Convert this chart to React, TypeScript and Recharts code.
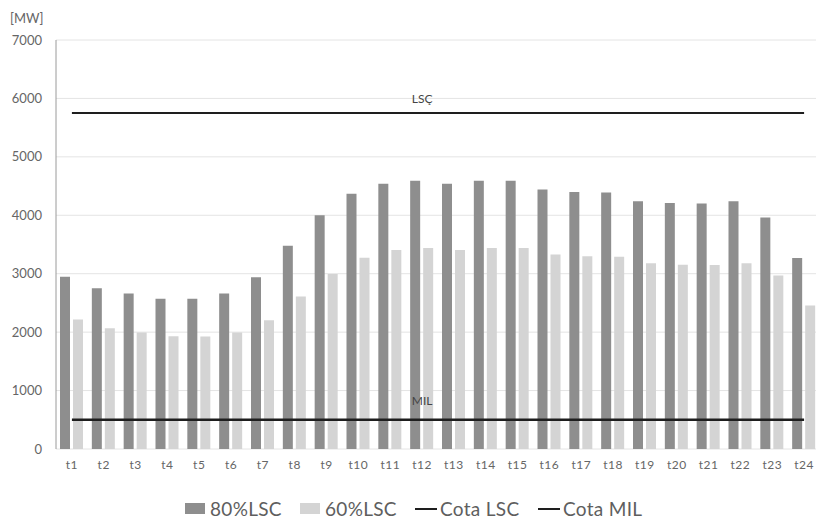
import React from 'react';
import {
  Bar,
  CartesianGrid,
  ComposedChart,
  LabelList,
  Legend,
  Line,
  XAxis,
  YAxis,
} from 'recharts';

const HOURS = [
  't1', 't2', 't3', 't4', 't5', 't6', 't7', 't8', 't9', 't10', 't11', 't12',
  't13', 't14', 't15', 't16', 't17', 't18', 't19', 't20', 't21', 't22', 't23', 't24',
];

const LOAD_80 = [
  2950, 2750, 2660, 2570, 2570, 2660, 2940, 3480, 4000, 4370, 4540, 4590,
  4540, 4590, 4590, 4440, 4400, 4390, 4240, 4210, 4200, 4240, 3960, 3270,
];

const LOAD_60 = [
  2215, 2065, 1995, 1930, 1925, 1995, 2205, 2610, 2995, 3275, 3405, 3440,
  3405, 3440, 3440, 3330, 3300, 3290, 3180, 3155, 3150, 3180, 2970, 2455,
];

const COTA_LSC = 5750;
const COTA_MIL = 500;

const Y_TICKS = [0, 1000, 2000, 3000, 4000, 5000, 6000, 7000];

// line tags only shown once, over t12
const LSC_TAG = HOURS.map((h) => (h === 't12' ? 'LSÇ' : undefined));
const MIL_TAG = HOURS.map((h) => (h === 't12' ? 'MIL' : undefined));

const FONT = 'Lato, "Open Sans", sans-serif';
const DARK = '#8e8e8e';
const LIGHT = '#d4d4d4';
const LINE = '#1e1e1e';

const data = HOURS.map((name, i) => ({
  name,
  p80: LOAD_80[i],
  p60: LOAD_60[i],
  lsc: COTA_LSC,
  mil: COTA_MIL,
  lscTag: LSC_TAG[i],
  milTag: MIL_TAG[i],
}));

const LegendContent = () => {
  const item: React.CSSProperties = { display: 'flex', alignItems: 'center' };
  const text: React.CSSProperties = {
    color: '#5e5e5e',
    fontSize: 19,
    fontFamily: FONT,
    letterSpacing: 0.3,
  };
  return (
    <div style={{ position: 'relative', height: 28 }}>
      <div style={{ ...item, position: 'absolute', left: 177 }}>
        <span style={{ width: 20, height: 11, background: DARK, marginRight: 5 }} />
        <span style={text}>80%LSC</span>
      </div>
      <div style={{ ...item, position: 'absolute', left: 292 }}>
        <span style={{ width: 20, height: 11, background: LIGHT, marginRight: 5 }} />
        <span style={text}>60%LSC</span>
      </div>
      <div style={{ ...item, position: 'absolute', left: 407 }}>
        <span style={{ width: 22, height: 2, background: LINE, marginRight: 3 }} />
        <span style={text}>Cota LSC</span>
      </div>
      <div style={{ ...item, position: 'absolute', left: 530 }}>
        <span style={{ width: 22, height: 2, background: LINE, marginRight: 3 }} />
        <span style={text}>Cota MIL</span>
      </div>
    </div>
  );
};

export default function App() {
  return (
    <div style={{ position: 'fixed', left: 8, top: 8, width: 808, height: 519, overflow: 'hidden', background: '#fff' }}>
      <style>{'html, body { overflow: hidden; }'}</style>
      <div
        style={{
          position: 'absolute',
          left: 2,
          top: 2,
          fontFamily: FONT,
          fontSize: 13,
          color: '#666',
        }}
      >
        [MW]
      </div>
      <ComposedChart
        width={816}
        height={519}
        data={data}
        margin={{ top: 32, right: 4, left: 0, bottom: 20 }}
        barCategoryGap={4}
        barGap={3}
      >
        <CartesianGrid vertical={false} stroke="#e4e4e4" />
        <XAxis
          dataKey="name"
          height={30}
          axisLine={false}
          tickLine={false}
          tickSize={0}
          tickMargin={11}
          tick={{ fill: '#666', fontSize: 12, fontFamily: FONT, letterSpacing: 0.5 }}
          interval={0}
        />
        <YAxis
          width={48}
          domain={[0, 7000]}
          ticks={Y_TICKS}
          axisLine={{ stroke: '#9a9a9a' }}
          tickLine={false}
          tickSize={0}
          tickMargin={14}
          tick={{ fill: '#666', fontSize: 13, fontFamily: FONT }}
        />
        <Bar dataKey="p80" fill={DARK} isAnimationActive={false} />
        <Bar dataKey="p60" fill={LIGHT} isAnimationActive={false} />
        <Line
          dataKey="lsc"
          stroke={LINE}
          strokeWidth={2}
          dot={false}
          activeDot={false}
          isAnimationActive={false}
        >
          <LabelList dataKey="lscTag" position="top" offset={10} fill="#444" fontSize={12} fontFamily={FONT} />
        </Line>
        <Line
          dataKey="mil"
          stroke={LINE}
          strokeWidth={2.5}
          dot={false}
          activeDot={false}
          isAnimationActive={false}
        >
          <LabelList dataKey="milTag" position="top" offset={15} fill="#444" fontSize={12} fontFamily={FONT} />
        </Line>
        <Legend
          content={<LegendContent />}
          wrapperStyle={{ left: 0, top: 489, width: 816, height: 28 }}
        />
      </ComposedChart>
    </div>
  );
}
